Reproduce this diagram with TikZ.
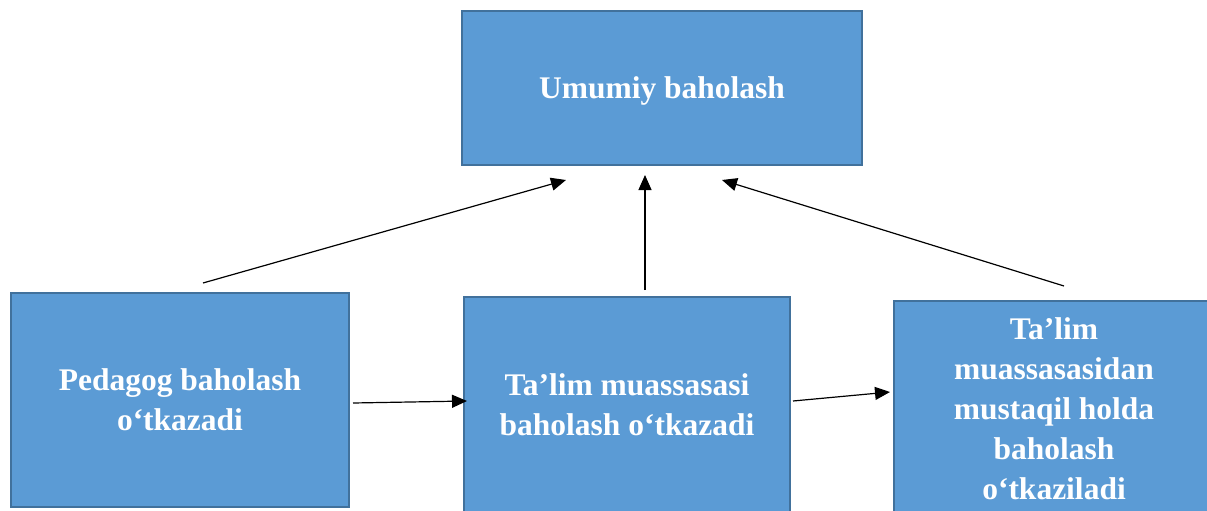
\documentclass[tikz,border=0pt]{standalone}
\usepackage{fontspec}
\setmainfont{Liberation Serif}
\usetikzlibrary{arrows.meta}
\definecolor{boxfill}{HTML}{5B9BD5}
\definecolor{boxline}{HTML}{41719C}
\tikzset{
  box/.style={draw=boxline, line width=2pt, fill=boxfill, text=white,
    font=\fontsize{31.5}{40}\selectfont\bfseries, align=center, inner sep=0pt},
  conn/.style={-{Triangle[length=15pt,width=13pt]}, line width=1.2pt, black}
}
\begin{document}
\begin{tikzpicture}[x=1pt,y=-1pt]
\useasboundingbox (0,0) rectangle (1207,511);
\clip (0,0) rectangle (1207,511);
\node[box, minimum width=400pt, minimum height=154pt, text height=28pt, text depth=7pt] (top) at (662,88) {Umumiy baholash};
\node[box, minimum width=338pt, minimum height=214pt] (left) at (180,400) {Pedagog baholash\\o‘tkazadi};
\node[box, minimum width=326pt, minimum height=216pt] (mid) at (627,405) {Ta’lim muassasasi\\baholash o‘tkazadi};
\node[box, minimum width=320pt, minimum height=216pt] (right) at (1054,409) {Ta’lim\\muassasasidan\\mustaqil holda\\baholash\\o‘tkaziladi};
\coordinate (a1s) at (203,283);
\coordinate (a1e) at (566,180);
\coordinate (a2s) at (645,290);
\coordinate (a2e) at (645,175);
\coordinate (a3s) at (1064,286);
\coordinate (a3e) at (722,180);
\coordinate (a4s) at (353,403);
\coordinate (a4e) at (467,401);
\coordinate (a5s) at (793,401);
\coordinate (a5e) at (890,392);
\draw[conn] (a1s) -- (a1e);
\draw[conn] (a2s) -- (a2e);
\draw[conn] (a3s) -- (a3e);
\draw[conn] (a4s) -- (a4e);
\draw[conn] (a5s) -- (a5e);
\end{tikzpicture}
\end{document}
